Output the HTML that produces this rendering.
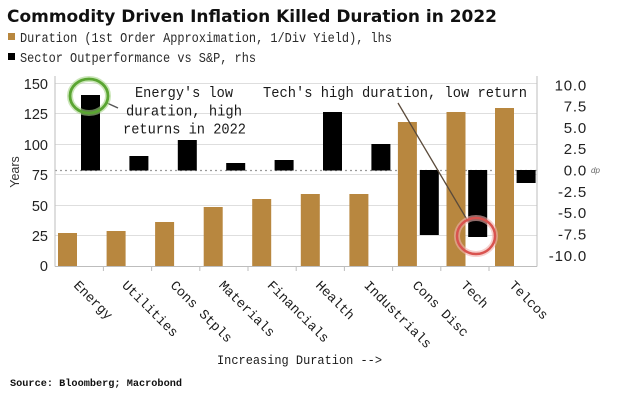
<!DOCTYPE html>
<html>
<head>
<meta charset="utf-8">
<style>
html,body{margin:0;padding:0;background:#fff;}
svg{display:block;}
</style>
</head>
<body>
<svg width="620" height="400" viewBox="0 0 620 400" xmlns="http://www.w3.org/2000/svg">
<rect x="0" y="0" width="620" height="400" fill="#ffffff"/>

<!-- Title -->
<text x="7" y="22" font-family="DejaVu Sans, Liberation Sans, sans-serif" font-weight="bold" font-size="17" fill="#111" textLength="490" lengthAdjust="spacingAndGlyphs">Commodity Driven Inflation Killed Duration in 2022</text>

<!-- Legend -->
<rect x="8" y="33" width="7" height="7" fill="#b8873f"/>
<text x="20" y="42" font-family="Liberation Mono, monospace" font-size="13.5" fill="#2a2a2a" textLength="372" lengthAdjust="spacingAndGlyphs">Duration (1st Order Approximation, 1/Div Yield), lhs</text>
<rect x="8" y="53" width="7" height="7" fill="#000"/>
<text x="20" y="62" font-family="Liberation Mono, monospace" font-size="13.5" fill="#2a2a2a" textLength="236" lengthAdjust="spacingAndGlyphs">Sector Outperformance vs S&amp;P, rhs</text>

<!-- Gridlines (left axis values) -->
<g stroke="#dedede" stroke-width="1">
<line x1="55" y1="83.5" x2="537" y2="83.5"/>
<line x1="55" y1="113.5" x2="537" y2="113.5"/>
<line x1="55" y1="144.5" x2="537" y2="144.5"/>
<line x1="55" y1="174.5" x2="537" y2="174.5"/>
<line x1="55" y1="205.5" x2="537" y2="205.5"/>
<line x1="55" y1="235.5" x2="537" y2="235.5"/>
</g>

<!-- Dotted zero line -->
<line x1="55" y1="170.5" x2="537" y2="170.5" stroke="#9a9a9a" stroke-width="1.2" stroke-dasharray="2,3"/>

<!-- Axes -->
<line x1="55" y1="76" x2="55" y2="266.5" stroke="#bdbdbd" stroke-width="1"/>
<line x1="537" y1="76" x2="537" y2="266.5" stroke="#bdbdbd" stroke-width="1"/>
<line x1="55" y1="266.5" x2="537" y2="266.5" stroke="#bdbdbd" stroke-width="1"/>
<g stroke="#bdbdbd" stroke-width="1">
<line x1="103.4" y1="266" x2="103.4" y2="271"/>
<line x1="151.6" y1="266" x2="151.6" y2="271"/>
<line x1="199.8" y1="266" x2="199.8" y2="271"/>
<line x1="248" y1="266" x2="248" y2="271"/>
<line x1="296.2" y1="266" x2="296.2" y2="271"/>
<line x1="344.4" y1="266" x2="344.4" y2="271"/>
<line x1="392.6" y1="266" x2="392.6" y2="271"/>
<line x1="440.8" y1="266" x2="440.8" y2="271"/>
<line x1="489" y1="266" x2="489" y2="271"/>
</g>

<!-- Tan bars (Duration) -->
<g fill="#b8873f">
<rect x="58" y="233" width="19" height="33"/>
<rect x="106.6" y="231" width="19" height="35"/>
<rect x="155.1" y="222" width="19" height="44"/>
<rect x="203.7" y="207" width="19" height="59"/>
<rect x="252.2" y="199" width="19" height="67"/>
<rect x="300.8" y="194" width="19" height="72"/>
<rect x="349.4" y="194" width="19" height="72"/>
<rect x="397.9" y="122" width="19" height="144"/>
<rect x="446.5" y="112" width="19" height="154"/>
<rect x="495" y="108" width="19" height="158"/>
</g>

<!-- Black bars (Outperformance) -->
<g fill="#000">
<rect x="81" y="95" width="19" height="75.5"/>
<rect x="129.4" y="156" width="19" height="14.5"/>
<rect x="177.8" y="140" width="19" height="30.5"/>
<rect x="226.2" y="163" width="19" height="7.5"/>
<rect x="274.6" y="160" width="19" height="10.5"/>
<rect x="323" y="112" width="19" height="58.5"/>
<rect x="371.4" y="144" width="19" height="26.5"/>
<rect x="419.8" y="170" width="19" height="65"/>
<rect x="468.2" y="170" width="19" height="67"/>
<rect x="516.6" y="170" width="19" height="13"/>
</g>

<!-- Left axis labels -->
<g font-family="Liberation Sans, Arial, sans-serif" font-size="14.5" fill="#222" text-anchor="end">
<text x="48" y="89">150</text>
<text x="48" y="119">125</text>
<text x="48" y="150">100</text>
<text x="48" y="180">75</text>
<text x="48" y="211">50</text>
<text x="48" y="241">25</text>
<text x="48" y="271">0</text>
</g>
<text transform="translate(19,172) rotate(-90)" font-family="Liberation Sans, Arial, sans-serif" font-size="12.5" fill="#333" text-anchor="middle">Years</text>

<!-- Right axis labels -->
<g font-family="Liberation Sans, Arial, sans-serif" font-size="15" fill="#222" text-anchor="end" letter-spacing="0.8">
<text x="587" y="90.5">10.0</text>
<text x="587" y="111.5">7.5</text>
<text x="587" y="133">5.0</text>
<text x="587" y="154">2.5</text>
<text x="587" y="175.5">0.0</text>
<text x="587" y="197">-2.5</text>
<text x="587" y="218">-5.0</text>
<text x="587" y="239.5">-7.5</text>
<text x="587" y="261">-10.0</text>
</g>
<text x="591" y="173" font-family="Liberation Sans, Arial, sans-serif" font-size="8" font-style="italic" fill="#666">dp</text>

<!-- X category labels -->
<g font-family="Liberation Mono, monospace" font-size="13.5" fill="#1a1a1a">
<text transform="translate(73,286) rotate(45)">Energy</text>
<text transform="translate(121.4,286) rotate(45)">Utilities</text>
<text transform="translate(169.8,286) rotate(45)">Cons Stpls</text>
<text transform="translate(218.2,286) rotate(45)">Materials</text>
<text transform="translate(266.6,286) rotate(45)">Financials</text>
<text transform="translate(315,286) rotate(45)">Health</text>
<text transform="translate(363.4,286) rotate(45)">Industrials</text>
<text transform="translate(411.8,286) rotate(45)">Cons Disc</text>
<text transform="translate(460.2,286) rotate(45)">Tech</text>
<text transform="translate(508.6,286) rotate(45)">Telcos</text>
</g>

<!-- X axis title -->
<text x="217" y="364" font-family="Liberation Mono, monospace" font-size="13" fill="#1a1a1a" textLength="165" lengthAdjust="spacingAndGlyphs">Increasing Duration --&gt;</text>

<!-- Source -->
<text x="10" y="386" font-family="Liberation Mono, monospace" font-size="10" font-weight="bold" fill="#111" textLength="172" lengthAdjust="spacingAndGlyphs">Source: Bloomberg; Macrobond</text>

<!-- Annotations -->
<g font-family="Liberation Mono, monospace" font-size="14.5" fill="#1a1a1a">
<text x="135" y="97" textLength="98" lengthAdjust="spacingAndGlyphs">Energy's low</text>
<text x="126" y="115.5" textLength="116" lengthAdjust="spacingAndGlyphs">duration, high</text>
<text x="123" y="133.5" textLength="123" lengthAdjust="spacingAndGlyphs">returns in 2022</text>
</g>
<text x="263" y="97" font-family="Liberation Mono, monospace" font-size="14.5" fill="#1a1a1a" textLength="264" lengthAdjust="spacingAndGlyphs">Tech's high duration, low return</text>

<!-- Connector lines -->
<line x1="107" y1="103" x2="118" y2="108" stroke="#555" stroke-width="1.5"/>
<line x1="398" y1="103" x2="469" y2="223" stroke="#5a4a3a" stroke-width="1.3"/>

<!-- Green circle -->
<ellipse cx="89" cy="96" rx="19" ry="17" fill="none" stroke="#a8d58a" stroke-width="6" opacity="0.6"/>
<ellipse cx="89" cy="96" rx="19" ry="17" fill="none" stroke="#5aa532" stroke-width="2.8"/>

<!-- Red circle -->
<ellipse cx="476" cy="236" rx="19" ry="18" fill="none" stroke="#f0b0ad" stroke-width="6" opacity="0.6"/>
<ellipse cx="476" cy="236" rx="19" ry="18" fill="none" stroke="#d9534f" stroke-width="2.5"/>
</svg>
</body>
</html>
